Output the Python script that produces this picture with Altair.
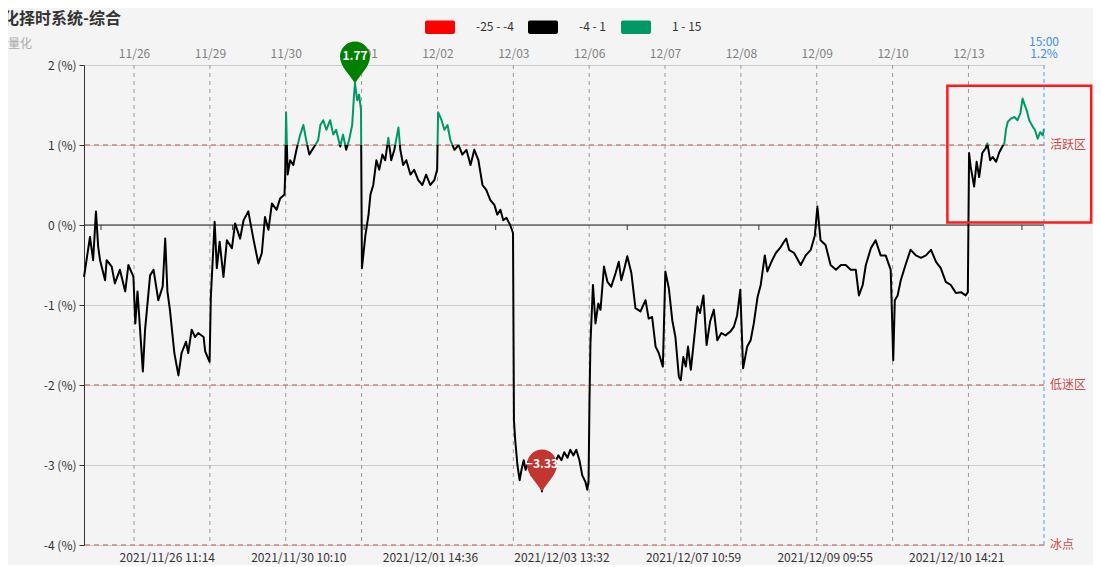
import altair as alt
import pandas as pd

# ---------------- data ----------------
title_text = "量化择时系统-综合"
subtitle_text = "量化"

day_labels = ["11/26", "11/29", "11/30", "12/01", "12/02", "12/03",
              "12/06", "12/07", "12/08", "12/09", "12/10", "12/13"]
day_start_idx = [159, 400, 641, 882, 1123, 1364, 1605, 1846, 2087, 2328, 2569, 2810]

bottom_labels = ["2021/11/26 11:14", "2021/11/30 10:10", "2021/12/01 14:36",
                 "2021/12/03 13:32", "2021/12/07 10:59", "2021/12/09 09:55",
                 "2021/12/10 14:21"]
bottom_idx = [263, 681, 1099, 1517, 1935, 2353, 2771]
label_interval = 418

end_idx = 3050
end_time = "15:00"

piece_labels = ["-25 - -4", "-4 - 1", "1 - 15"]
piece_bounds = [-25, -4, 1, 15]
piece_colors = ["#ff0000", "#000000", "#009966"]

zone_values = [1, -2, -4]
zone_names = ["活跃区", "低迷区", "冰点"]

# highlighted box drawn round the last session (time index range, value range)
box_t = [2743, 3200]
box_v = [0.03, 1.74]

t_idx = [0, 19, 29, 38, 45, 51, 67, 72, 88, 98, 114, 131, 141, 152, 157,
         163, 170, 187, 194, 210, 221, 236, 250, 258, 265, 273, 287, 300, 310, 324,
         331, 342, 353, 363, 380, 385, 399,
         403, 415, 422, 431, 443, 454, 470, 480, 496, 507, 522, 538, 554, 565, 575,
         586, 597, 612, 623, 637, 639,
         642, 647, 655, 665, 675, 687, 697, 706, 716, 725, 735, 744, 751, 760, 770,
         782, 792, 801, 814, 823, 833, 842, 852, 858, 861, 868, 874, 880,
         883, 894, 904, 910, 919, 929, 938, 948, 957, 967, 976, 986, 999, 1005, 1014,
         1024, 1037, 1049, 1062, 1075, 1087, 1100, 1113, 1122,
         1125, 1136, 1145, 1155, 1164, 1177, 1190, 1202, 1215, 1228, 1240, 1253, 1266,
         1278, 1291, 1304, 1313, 1323, 1332, 1342, 1354, 1363,
         1366, 1370, 1377, 1384, 1390, 1397, 1403, 1412, 1422, 1431, 1441, 1450, 1455,
         1460, 1469, 1479, 1488, 1498, 1507, 1517, 1526, 1536, 1545, 1555, 1564, 1574,
         1583, 1593, 1599, 1603,
         1606, 1609, 1617, 1625, 1634, 1641, 1652, 1663, 1675, 1689, 1699, 1707, 1717,
         1726, 1739, 1752, 1768, 1784, 1794, 1805, 1816, 1826, 1839,
         1847, 1858, 1869, 1879, 1890, 1896, 1904, 1912, 1919, 1928, 1938, 1949, 1957,
         1968, 1978, 1989, 2001, 2012, 2025, 2038, 2054, 2065, 2075, 2085,
         2094, 2107, 2118, 2128, 2140, 2150, 2163, 2171, 2184, 2198, 2211, 2224, 2231,
         2240, 2256, 2277, 2293, 2309, 2322,
         2330, 2340, 2356, 2372, 2389, 2405, 2420, 2436, 2452, 2462, 2474, 2484, 2500,
         2515, 2531, 2547, 2563,
         2571, 2576, 2585, 2595, 2610, 2626, 2643, 2659, 2675, 2691, 2707, 2722, 2738,
         2754, 2770, 2786, 2801, 2808,
         2812, 2817, 2828, 2836, 2844, 2854, 2865, 2870, 2879, 2887, 2898, 2908, 2919,
         2924, 2929, 2935, 2945, 2956, 2966, 2975, 2982, 2987, 2996, 3003, 3014, 3021,
         3030, 3038, 3046, 3050]

pct = [-0.65, -0.15, -0.44, 0.17, -0.27, -0.44, -0.69, -0.44, -0.52, -0.73, -0.56, -0.83, -0.5, -0.6, -0.65,
       -1.23, -0.83, -1.83, -1.31, -0.63, -0.56, -0.94, -0.77, -0.17, -0.83, -1.06, -1.6, -1.88, -1.6, -1.46,
       -1.6, -1.31, -1.4, -1.35, -1.4, -1.58, -1.71,
       -0.9, 0.04, -0.54, -0.21, -0.65, -0.19, -0.29, 0.02, -0.17, 0.06, 0.17, -0.17, -0.48, -0.35, 0.1,
       -0.06, 0.27, 0.19, 0.33, 0.38, 0.6,
       1.41, 0.63, 0.81, 0.75, 0.94, 1.13, 1.25, 1.06, 0.88, 0.94, 1.0, 1.06, 1.25, 1.31, 1.19,
       1.31, 1.13, 1.19, 0.98, 1.13, 0.94, 1.06, 1.25, 1.63, 1.77, 1.56, 1.63, 1.44,
       -0.54, -0.13, 0.13, 0.38, 0.5, 0.81, 0.69, 0.88, 0.81, 1.09, 0.81, 0.94, 1.22, 0.94, 0.75,
       0.81, 0.63, 0.69, 0.56, 0.5, 0.63, 0.5, 0.56, 0.69,
       1.41, 1.31, 1.19, 1.25, 1.06, 0.94, 1.0, 0.88, 0.94, 0.75, 0.94, 0.81, 0.5,
       0.44, 0.31, 0.25, 0.13, 0.19, 0.06, 0.09, 0.0, -0.1,
       -2.44, -2.69, -3.0, -3.19, -3.06, -2.94, -3.06, -2.96, -3.13, -3.0, -3.06, -3.19, -3.33,
       -3.13, -3.0, -2.94, -3.04, -2.96, -2.88, -2.94, -2.84, -2.91, -2.81, -2.88, -2.81, -2.94,
       -3.13, -3.21, -3.31, -3.2,
       -2.2, -1.48, -0.75, -1.23, -0.98, -1.06, -0.52, -0.71, -0.77, -0.6, -0.46, -0.69, -0.54,
       -0.39, -0.6, -1.04, -1.08, -0.94, -1.17, -1.15, -1.52, -1.6, -1.77,
       -0.58, -0.79, -1.19, -1.4, -1.9, -1.94, -1.65, -1.77, -1.52, -1.81, -1.44, -1.02, -1.1,
       -0.88, -1.5, -1.21, -1.06, -1.44, -1.35, -1.38, -1.33, -1.27, -1.13, -0.81,
       -1.79, -1.52, -1.44, -1.23, -0.9, -0.75, -0.38, -0.58, -0.46, -0.35, -0.29, -0.21, -0.17,
       -0.31, -0.35, -0.5, -0.38, -0.31, -0.13,
       0.23, -0.19, -0.25, -0.5, -0.56, -0.5, -0.5, -0.56, -0.56, -0.88, -0.75, -0.5, -0.29,
       -0.19, -0.38, -0.38, -0.56,
       -1.69, -0.94, -0.88, -0.69, -0.5, -0.31, -0.38, -0.41, -0.38, -0.31, -0.46, -0.54, -0.71,
       -0.75, -0.85, -0.84, -0.88, -0.84,
       0.9, 0.73, 0.48, 0.79, 0.6, 0.9, 0.96, 1.02, 0.81, 0.85, 0.79, 0.91, 0.99,
       1.02, 1.19, 1.29, 1.33, 1.35, 1.31, 1.4, 1.58, 1.52, 1.42, 1.31, 1.23, 1.19,
       1.08, 1.16, 1.12, 1.2]

# ---------------- derived tables ----------------
series = pd.DataFrame({"t": t_idx, "v": pct})
vmin, vmax = min(pct), max(pct)
i_max, i_min = pct.index(vmax), pct.index(vmin)
extremes = pd.DataFrame({"t": [t_idx[i_max], t_idx[i_min]], "v": [vmax, vmin],
                         "kind": ["max", "min"]})
days = pd.DataFrame({"t": day_start_idx})
zones = pd.DataFrame({"v": zone_values, "name": zone_names})
zero_ticks = pd.DataFrame({"t": [b - label_interval // 2 for b in bottom_idx]
                           + [bottom_idx[-1] + label_interval // 2]})
end_df = pd.DataFrame({"t": [end_idx], "label": [f"{end_time}\n{pct[-1]:.1f}%"]})
legend_df = pd.DataFrame({"label": piece_labels})
box_df = pd.DataFrame({"t0": [box_t[0]], "t1": [box_t[1]], "v0": [box_v[0]], "v1": [box_v[1]]})
one = pd.DataFrame({"a": [0]})

# visual-map style gradient on the line (colour by value piece)
span = vmax - vmin
def off(v):
    return min(1.0, max(0.0, (v - vmin) / span))
stops = []
for lo, hi, c in zip(piece_bounds[:-1], piece_bounds[1:], piece_colors):
    if hi <= vmin or lo >= vmax:
        continue
    stops.append(alt.GradientStop(color=c, offset=off(lo)))
    stops.append(alt.GradientStop(color=c, offset=off(hi)))
line_grad = alt.LinearGradient(gradient="linear", stops=stops, x1=0, x2=0, y1=1, y2=0)

# ---------------- scales / axes ----------------
FONT = "Noto Sans CJK SC"
xscale = alt.Scale(domain=[0, end_idx], nice=False, zero=False)
yscale = alt.Scale(domain=[-4, 2], nice=False, zero=False)

top_axis = alt.Axis(
    orient="top", values=day_start_idx, grid=False, ticks=False, domain=False,
    labelExpr="%s[indexof(%s, datum.value)]" % (
        "[" + ",".join("'%s'" % s for s in day_labels) + "]",
        "[" + ",".join(str(v) for v in day_start_idx) + "]"),
    labelColor="#808080", labelFontSize=12, labelPadding=5, labelOverlap=False,
    labelFlush=False, title=None, labelFont=FONT)
bottom_axis = alt.Axis(
    orient="bottom", values=bottom_idx, grid=False, ticks=False, domain=False,
    labelExpr="%s[indexof(%s, datum.value)]" % (
        "[" + ",".join("'%s'" % s for s in bottom_labels) + "]",
        "[" + ",".join(str(v) for v in bottom_idx) + "]"),
    labelColor="#333333", labelFontSize=12, labelPadding=7, labelOverlap=False,
    labelFlush=False, title=None, labelFont=FONT)
y_axis = alt.Axis(
    orient="left", values=[-4, -3, -2, -1, 0, 1, 2], labelExpr="datum.value + ' (%)'",
    grid=True, gridColor="#cccccc", tickSize=5, tickColor="#333333",
    domainColor="#333333", labelColor="#333333", labelFontSize=12,
    labelPadding=3, title=None, labelFont=FONT)

# ---------------- layers ----------------
day_rules = alt.Chart(days).mark_rule(color="#9a9a9a", strokeDash=[4, 4], strokeWidth=1).encode(
    x=alt.X("t:Q", scale=xscale, axis=top_axis))

zero_rule = alt.Chart(one).mark_rule(color="#222222", strokeWidth=1).encode(
    y=alt.Y(datum=0, scale=yscale, axis=None))

ticks = alt.Chart(zero_ticks).mark_rule(color="#333333", strokeWidth=1).encode(
    x=alt.X("t:Q", scale=xscale, axis=None),
    y=alt.Y(datum=0, scale=yscale, axis=None),
    y2=alt.Y2(datum=-0.0625))

zone_rules = alt.Chart(zones).mark_rule(color="#d4817f", strokeDash=[5, 4], strokeWidth=1.5).encode(
    y=alt.Y("v:Q", scale=yscale, axis=None))
zone_text = alt.Chart(zones).mark_text(align="left", baseline="middle", dx=6, fontSize=12,
                                       color="#cc4a47", font=FONT).encode(
    x=alt.X(datum=end_idx, scale=xscale, axis=None),
    y=alt.Y("v:Q", scale=yscale, axis=None),
    text="name:N")

line = alt.Chart(series).mark_line(stroke=line_grad, strokeWidth=2, strokeJoin="round").encode(
    x=alt.X("t:Q", scale=xscale, axis=bottom_axis),
    y=alt.Y("v:Q", scale=yscale, axis=y_axis))

end_rule = alt.Chart(end_df).mark_rule(color="#4a9ff5", strokeDash=[4, 3], strokeWidth=1).encode(
    x=alt.X("t:Q", scale=xscale, axis=None))
end_text = alt.Chart(end_df).mark_text(align="center", baseline="top", lineBreak="\n",
                                       lineHeight=12, fontSize=12, color="#3d8ff0", font=FONT).encode(
    x=alt.X("t:Q", scale=xscale, axis=None),
    y=alt.value(-28),
    text="label:N")

box = alt.Chart(box_df).mark_rect(fill=None, fillOpacity=0, stroke="#ff1a1a", strokeWidth=2.5).encode(
    x=alt.X("t0:Q", scale=xscale, axis=None), x2="t1:Q",
    y=alt.Y("v0:Q", scale=yscale, axis=None), y2="v1:Q")

PIN = ("M0,0 C-0.3,-0.55 -1,-1.1 -1,-1.8 C-1,-2.35 -0.55,-2.8 0,-2.8 "
       "C0.55,-2.8 1,-2.35 1,-1.8 C1,-1.1 0.3,-0.55 0,0 Z")
pin_max = alt.Chart(extremes).transform_filter("datum.kind == 'max'").mark_point(
    shape=PIN, filled=True, size=900, opacity=1, color="#008000").encode(
    x=alt.X("t:Q", scale=xscale, axis=None), y=alt.Y("v:Q", scale=yscale, axis=None))
pin_min = alt.Chart(extremes).transform_filter("datum.kind == 'min'").mark_point(
    shape=PIN, filled=True, size=900, opacity=1, color="#c23531").encode(
    x=alt.X("t:Q", scale=xscale, axis=None), y=alt.Y("v:Q", scale=yscale, axis=None))
pin_text = alt.Chart(extremes).mark_text(baseline="middle", dy=-27, fontSize=12,
                                         fontWeight="bold", color="white", font=FONT).encode(
    x=alt.X("t:Q", scale=xscale, axis=None), y=alt.Y("v:Q", scale=yscale, axis=None),
    text=alt.Text("v:Q", format=".2f"))

title = alt.Chart(one).mark_text(text=title_text, align="left", baseline="middle", fontSize=16,
                                 fontWeight="bold", color="#333333", font=FONT).encode(
    x=alt.value(-97), y=alt.value(-46))
subtitle = alt.Chart(one).mark_text(text=subtitle_text, align="left", baseline="middle",
                                    fontSize=12, color="#aaaaaa", font=FONT).encode(
    x=alt.value(-76), y=alt.value(-21))

RECT = ("M-0.88,-0.45 H0.88 Q1,-0.45 1,-0.33 V0.33 Q1,0.45 0.88,0.45 H-0.88 "
        "Q-1,0.45 -1,0.33 V-0.33 Q-1,-0.45 -0.88,-0.45 Z")
legend_layer = alt.Chart(legend_df).transform_filter("false").mark_point(
    shape=RECT, filled=True, opacity=1).encode(
    x=alt.value(0), y=alt.value(0),
    color=alt.Color("label:N", scale=alt.Scale(domain=piece_labels, range=piece_colors),
                    legend=alt.Legend(orient="none", legendX=341, legendY=-53,
                                      direction="horizontal", title=None,
                                      symbolType=RECT, symbolSize=900,
                                      symbolStrokeWidth=0, symbolOpacity=1,
                                      labelOffset=21, columnPadding=14,
                                      labelFontSize=12, labelColor="#333333",
                                      labelFont=FONT)))

chart = alt.layer(
    day_rules, zero_rule, zone_rules, ticks, line, end_rule, zone_text, end_text, box,
    pin_max, pin_min, pin_text, title, subtitle, legend_layer
).resolve_axis(x="independent", y="independent").properties(
    width=960, height=480,
    autosize=alt.AutoSizeParams(type="none"),
    padding={"left": 76, "top": 57, "right": 49, "bottom": 20},
    background="#f4f4f4",
).configure_view(stroke=None).configure_text(font=FONT)

chart.save("out.html", embed_options={"renderer": "svg", "actions": False})
